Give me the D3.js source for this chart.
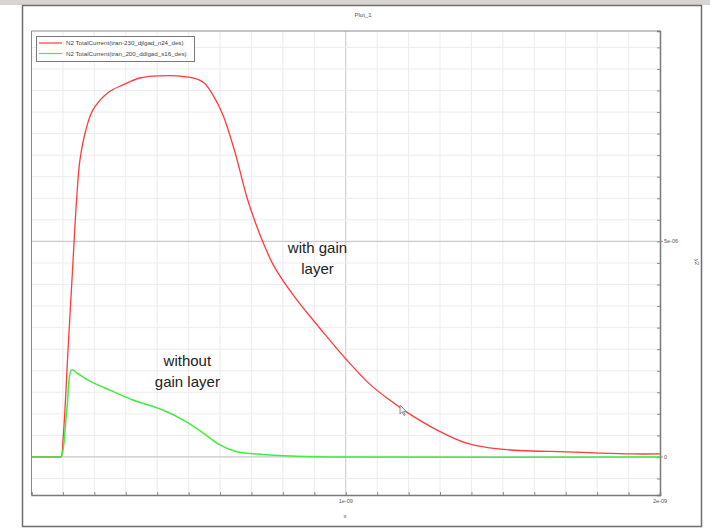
<!DOCTYPE html>
<html>
<head>
<meta charset="utf-8">
<script src="https://cdn.jsdelivr.net/npm/d3@7"></script>
<style>
  html, body { margin: 0; padding: 0; background: #fff; }
  svg { display: block; }
  text { font-family: "Liberation Sans", Arial, sans-serif; }
</style>
</head>
<body>
<svg id="chart" width="710" height="529"></svg>
<script>
// Transient total current at contact N2 for two simulated devices
const seriesNames = [
  "N2 TotalCurrent(tran-230_djlgad_n24_des)",
  "N2 TotalCurrent(tran_200_ddlgad_s16_des)"
];
const seriesColors = ["#ff3b3b", "#3cf03c"];

// with gain layer: time (s), current (A)
const gainTime = [0, 0.084e-9, 0.0938e-9, 0.1002e-9, 0.1081e-9, 0.1161e-9, 0.1288e-9, 0.1437e-9,
  0.1542e-9, 0.1733e-9, 0.1955e-9, 0.2432e-9, 0.2909e-9, 0.3450e-9, 0.4086e-9, 0.4626e-9,
  0.5135e-9, 0.5485e-9, 0.5771e-9, 0.6089e-9, 0.6471e-9, 0.6852e-9, 0.7138e-9, 0.7361e-9,
  0.7647e-9, 0.7965e-9, 0.8378e-9, 0.8855e-9, 0.9332e-9, 1.0032e-9, 1.0763e-9, 1.1399e-9,
  1.1940e-9, 1.2893e-9, 1.3847e-9, 1.4579e-9, 1.5533e-9, 1.7027e-9, 1.8076e-9, 1.9126e-9, 2.0e-9];
const gainCurrent = [0, 0, 0, 0.39e-6, 1.32e-6, 2.48e-6, 4.11e-6, 5.99e-6,
  6.89e-6, 7.59e-6, 8.05e-6, 8.45e-6, 8.63e-6, 8.79e-6, 8.84e-6, 8.84e-6,
  8.79e-6, 8.68e-6, 8.40e-6, 7.94e-6, 7.08e-6, 6.03e-6, 5.41e-6, 4.99e-6,
  4.52e-6, 4.13e-6, 3.71e-6, 3.27e-6, 2.85e-6, 2.25e-6, 1.69e-6, 1.32e-6,
  1.04e-6, 0.63e-6, 0.32e-6, 0.21e-6, 0.15e-6, 0.12e-6, 0.09e-6, 0.07e-6, 0.07e-6];

// without gain layer: time (s), current (A)
const noGainTime = [0, 0.084e-9, 0.0938e-9, 0.1129e-9, 0.1278e-9, 0.1478e-9, 0.1860e-9, 0.2496e-9,
  0.3227e-9, 0.4181e-9, 0.4944e-9, 0.5453e-9, 0.5994e-9, 0.6534e-9, 0.7170e-9, 0.8219e-9,
  0.9491e-9, 2.0e-9];
const noGainCurrent = [0, 0, 0, 1.14e-6, 2.02e-6, 1.93e-6, 1.76e-6, 1.55e-6,
  1.32e-6, 1.09e-6, 0.81e-6, 0.56e-6, 0.28e-6, 0.12e-6, 0.07e-6, 0.02e-6,
  0, 0];

const xMajorTicks = [1e-9, 2e-9];
const xTickLabels = ["1e-09", "2e-09"];
const yMajorTicks = [0, 5e-6];
const yTickLabels = ["0", "5e-06"];

const plotTitle = "Plot_1";
const xTitle = "x";
const yTitle = "y2";

const notes = [
  { lines: ["with gain", "layer"], t: 0.91e-9, i: 4.72e-6 },
  { lines: ["without", "gain layer"], t: 0.496e-9, i: 2.10e-6 }
];

const svg = d3.select("#chart");
const plot = { left: 31.5, right: 660, top: 31, bottom: 495 };

const x = d3.scaleLinear().domain([0, 2e-9]).range([plot.left, plot.right]);
const y = d3.scaleLinear().domain([-0.882e-6, 9.88e-6]).range([plot.bottom, plot.top]);

// window strip and frame
svg.append("rect").attr("x", 0).attr("y", 0).attr("width", 710).attr("height", 5).attr("fill", "#d8d5d0");
svg.append("rect").attr("x", 22.5).attr("y", 5.5).attr("width", 679).attr("height", 521)
  .attr("fill", "#fff").attr("stroke", "#6e6e6e").attr("stroke-width", 1.5);

svg.append("text").attr("x", 363).attr("y", 17).attr("text-anchor", "middle")
  .attr("font-size", 6).attr("fill", "#555").text(plotTitle);

// grid
const xMinor = d3.range(1, 20).map(k => k * 1e-10);
const yMinor = d3.range(-1, 20).map(k => k * 5e-7).filter(v => v > y.domain()[0] && v < y.domain()[1]);
const isMajorY = d => yMajorTicks.some(m => Math.abs(m - d) < 1e-12);
const grid = svg.append("g");
grid.selectAll("line.vx").data(xMinor).join("line")
  .attr("x1", d => x(d)).attr("x2", d => x(d)).attr("y1", plot.top).attr("y2", plot.bottom)
  .attr("stroke", d => Math.abs(d - 1e-9) < 1e-13 ? "#c9c9c9" : "#ececec").attr("stroke-width", 1);
grid.selectAll("line.hy").data(yMinor).join("line")
  .attr("x1", plot.left).attr("x2", plot.right).attr("y1", d => y(d)).attr("y2", d => y(d))
  .attr("stroke", d => isMajorY(d) ? "#c9c9c9" : "#ececec")
  .attr("stroke-width", d => isMajorY(d) ? 1.3 : 1);

// top and left border of the plot area
svg.append("line").attr("x1", plot.left).attr("x2", plot.right).attr("y1", plot.top).attr("y2", plot.top)
  .attr("stroke", "#8a8a8a").attr("stroke-width", 1);
svg.append("line").attr("x1", plot.left).attr("x2", plot.left).attr("y1", plot.top).attr("y2", plot.bottom)
  .attr("stroke", "#8a8a8a").attr("stroke-width", 1);

// axes
const xAxis = d3.axisBottom(x).tickValues(xMinor.concat([2e-9])).tickSize(-3).tickFormat("");
svg.append("g").attr("transform", `translate(0,${plot.bottom})`).call(xAxis)
  .call(g => g.select(".domain").attr("stroke", "#7a7a7a").attr("stroke-width", 1.5))
  .call(g => g.selectAll(".tick line").attr("stroke", "#8a8a8a"));
svg.append("g").selectAll("text").data(xMajorTicks).join("text")
  .attr("x", d => x(d)).attr("y", 503).attr("text-anchor", "middle")
  .attr("font-size", 5.5).attr("fill", "#555").text((d, i) => xTickLabels[i]);

const yAxis = d3.axisRight(y).tickValues(yMinor).tickSize(-3).tickFormat("");
svg.append("g").attr("transform", `translate(${plot.right},0)`).call(yAxis)
  .call(g => g.select(".domain").attr("stroke", "#7a7a7a").attr("stroke-width", 1.5))
  .call(g => g.selectAll(".tick line").attr("stroke", "#8a8a8a"));
svg.append("g").selectAll("line").data(yMajorTicks).join("line")
  .attr("x1", plot.right).attr("x2", plot.right + 3).attr("y1", d => y(d)).attr("y2", d => y(d))
  .attr("stroke", "#8a8a8a");
svg.append("g").selectAll("text").data(yMajorTicks).join("text")
  .attr("x", plot.right + 4).attr("y", d => y(d) + 2).attr("font-size", 5.5)
  .attr("fill", "#555").text((d, i) => yTickLabels[i]);

svg.append("text").attr("x", 345).attr("y", 518).attr("text-anchor", "middle")
  .attr("font-size", 6).attr("fill", "#555").text(xTitle);
svg.append("text").attr("transform", "translate(695,262) rotate(90)").attr("text-anchor", "middle")
  .attr("font-size", 6).attr("fill", "#555").text(yTitle);

// curves
const line = d3.line().x(d => x(d[0])).y(d => y(d[1])).curve(d3.curveCatmullRom.alpha(0.5));
const gainData = gainTime.map((t, i) => [t, gainCurrent[i]]);
const noGainData = noGainTime.map((t, i) => [t, noGainCurrent[i]]);
svg.append("path").datum(gainData).attr("d", line).attr("fill", "none")
  .attr("stroke", seriesColors[0]).attr("stroke-width", 1.3);
svg.append("path").datum(noGainData).attr("d", line).attr("fill", "none")
  .attr("stroke", seriesColors[1]).attr("stroke-width", 1.5);

// legend
const lg = svg.append("g");
lg.append("rect").attr("x", 36.5).attr("y", 36.5).attr("width", 158).attr("height", 25)
  .attr("fill", "#fff").attr("stroke", "#7a7a7a").attr("stroke-width", 1);
seriesNames.forEach((name, i) => {
  lg.append("line").attr("x1", 39).attr("x2", 62).attr("y1", 43 + i * 10.5).attr("y2", 43 + i * 10.5)
    .attr("stroke", seriesColors[i]).attr("stroke-width", 1.2);
  lg.append("text").attr("x", 66).attr("y", 45 + i * 10.5).attr("font-size", 6.2)
    .attr("fill", "#444").text(name);
});

// annotations
notes.forEach(n => {
  const t = svg.append("text").attr("text-anchor", "middle")
    .attr("font-family", "Lato, 'Open Sans', sans-serif").attr("font-size", 15).attr("fill", "#222");
  n.lines.forEach((s, k) => {
    t.append("tspan").attr("x", x(n.t)).attr("y", y(n.i) + k * 21).text(s);
  });
});

// mouse pointer resting on the red curve
svg.append("path").attr("transform", "translate(400,405)")
  .attr("d", "M0,0 L0,9 L2.2,7 L4,10.5 L5.3,9.9 L3.6,6.6 L6.4,6.4 Z")
  .attr("fill", "#eee").attr("stroke", "#777").attr("stroke-width", 0.8);
</script>
</body>
</html>
